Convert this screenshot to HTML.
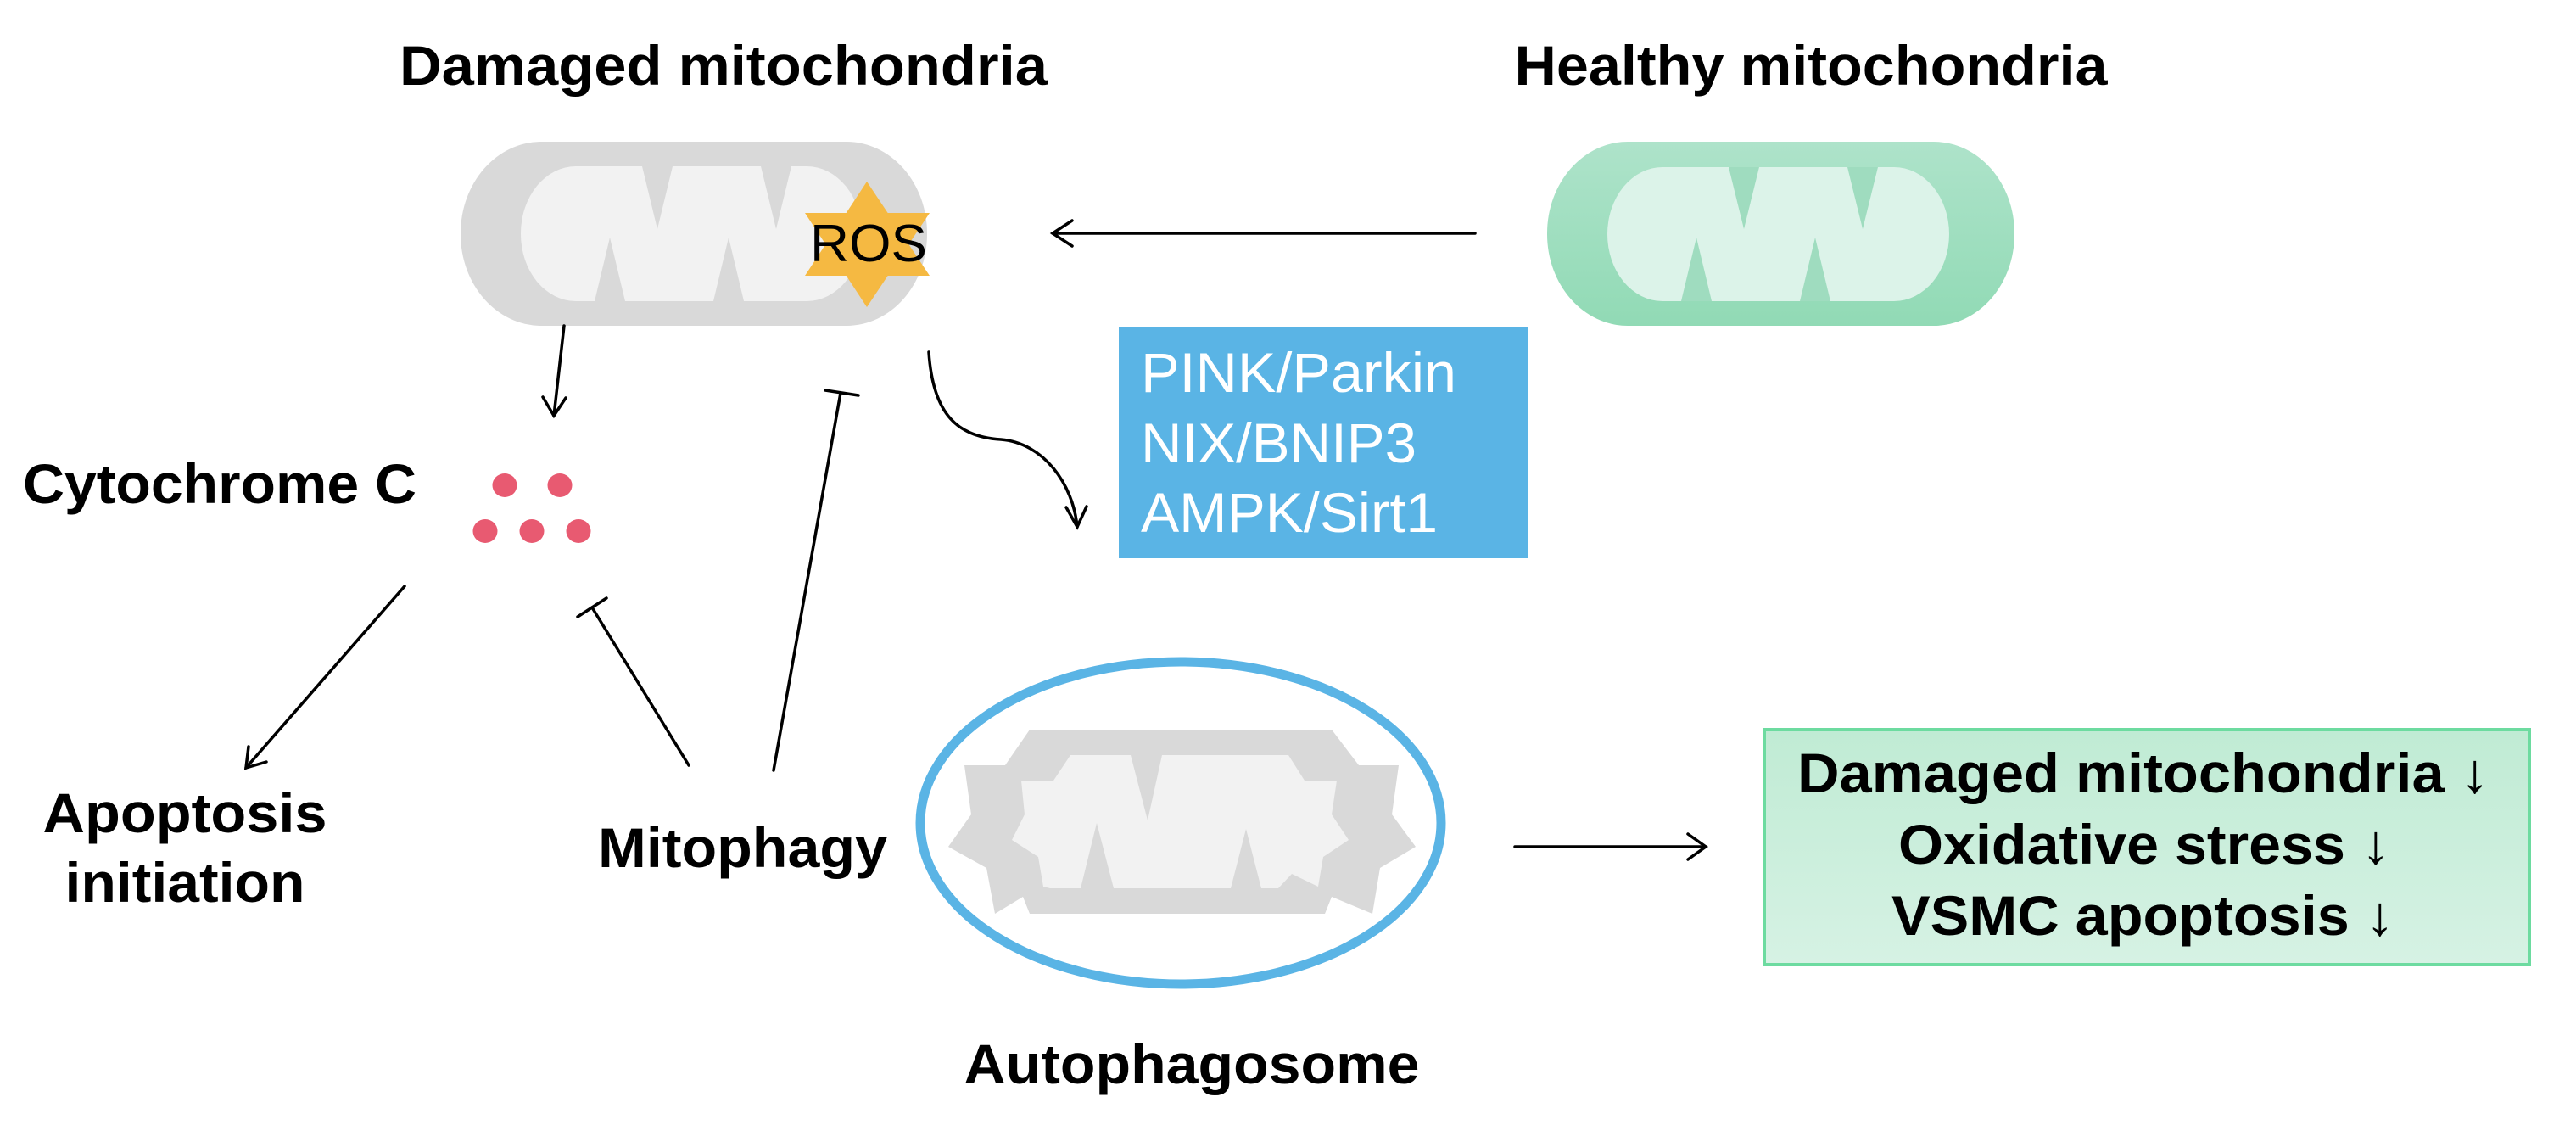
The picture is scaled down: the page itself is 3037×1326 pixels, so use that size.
<!DOCTYPE html>
<html><head><meta charset="utf-8"><style>
html,body{margin:0;padding:0;background:#fff;}
svg{display:block;}
text{font-family:"Liberation Sans",Arial,sans-serif;}
.b{font-weight:bold;font-size:66px;fill:#000;}
</style></head><body>
<svg width="3037" height="1326" viewBox="0 0 3037 1326" xmlns="http://www.w3.org/2000/svg">
<defs>
<linearGradient id="gh" x1="0" y1="0" x2="0" y2="1"><stop offset="0" stop-color="#aee3ca"/><stop offset="1" stop-color="#91dab5"/></linearGradient>
<linearGradient id="gb" x1="0" y1="0" x2="0" y2="1"><stop offset="0" stop-color="#c0ebd4"/><stop offset="1" stop-color="#d6f2e4"/></linearGradient>
</defs>

<!-- titles -->
<text class="b" x="853" y="100" text-anchor="middle" textLength="764" lengthAdjust="spacingAndGlyphs">Damaged mitochondria</text>
<text class="b" x="2135" y="100" text-anchor="middle" textLength="699" lengthAdjust="spacingAndGlyphs">Healthy mitochondria</text>

<!-- damaged mito -->
<g transform="translate(543,167)">
<rect x="0" y="0" width="550" height="217" rx="95" ry="108" fill="#d9d9d9"/>
<rect x="71" y="29" width="402" height="159" rx="65" ry="79" fill="#f2f2f2"/>
<polygon points="158,188 194,188 176,113" fill="#d9d9d9"/>
<polygon points="298,188 334,188 316,113" fill="#d9d9d9"/>
<polygon points="214,29 250,29 232,103" fill="#d9d9d9"/>
<polygon points="354,29 390,29 372,103" fill="#d9d9d9"/>
</g>
<!-- ROS star -->
<polygon points="1022,214 1096,325 949,325" fill="#f5b942"/>
<polygon points="949,251 1096,251 1022,362" fill="#f5b942"/>
<text x="1024" y="308" text-anchor="middle" font-size="62" textLength="138" lengthAdjust="spacingAndGlyphs">ROS</text>

<!-- healthy mito -->
<g transform="translate(1824,167)">
<rect x="0" y="0" width="551" height="217" rx="95" ry="108" fill="url(#gh)"/>
<rect x="71" y="30" width="403" height="158" rx="65" ry="79" fill="#dcf3e9"/>
<polygon points="158,188 194,188 176,113" fill="#9fdcbf"/>
<polygon points="298,188 334,188 316,113" fill="#9fdcbf"/>
<polygon points="214,30 250,30 232,103" fill="#9fdcbf"/>
<polygon points="354,30 390,30 372,103" fill="#9fdcbf"/>
</g>

<g stroke="#000" stroke-width="3.5" fill="none" stroke-linecap="round">
<!-- healthy -> damaged -->
<line x1="1739" y1="275" x2="1241" y2="275"/>
<polyline points="1264,260 1241,275 1264,290"/>
<!-- damaged -> cyt c -->
<line x1="665" y1="384" x2="653" y2="490"/>
<polyline points="640,468 653,490 667,469"/>
<!-- curved -->
<path d="M1095 415 C1100 490 1130 515 1180 518 C1230 522 1265 570 1270 621"/>
<polyline points="1257,598 1270,621 1281,597"/>
<!-- cyt c -> apoptosis -->
<line x1="477" y1="691" x2="290" y2="905"/>
<polyline points="293,880 290,905 314,898"/>
<!-- mitophagy -| cyt c -->
<line x1="812" y1="902" x2="698" y2="716"/>
<line x1="681" y1="727" x2="715" y2="705"/>
<!-- mitophagy -| damaged -->
<line x1="912" y1="908" x2="991" y2="463"/>
<line x1="973" y1="460" x2="1012" y2="466"/>
<!-- autophagosome -> result -->
<line x1="1786" y1="998" x2="2011" y2="998"/>
<polyline points="1990,983 2011,998 1990,1013"/>
</g>

<!-- blue box -->
<rect x="1319" y="386" width="482" height="272" fill="#5ab4e5"/>
<g fill="#fff" font-size="66">
<text x="1345" y="462" textLength="372" lengthAdjust="spacingAndGlyphs">PINK/Parkin</text>
<text x="1345" y="545" textLength="325" lengthAdjust="spacingAndGlyphs">NIX/BNIP3</text>
<text x="1345" y="627" textLength="350" lengthAdjust="spacingAndGlyphs">AMPK/Sirt1</text>
</g>

<!-- cytochrome c -->
<text class="b" x="27" y="593" textLength="464" lengthAdjust="spacingAndGlyphs">Cytochrome C</text>
<g fill="#e85a71">
<ellipse cx="595" cy="572" rx="14.5" ry="14"/>
<ellipse cx="660" cy="572" rx="14.5" ry="14"/>
<ellipse cx="572" cy="626" rx="14.5" ry="14"/>
<ellipse cx="627" cy="626" rx="14.5" ry="14"/>
<ellipse cx="682" cy="626" rx="14.5" ry="14"/>
</g>

<text class="b" x="218" y="981" text-anchor="middle" textLength="335" lengthAdjust="spacingAndGlyphs">Apoptosis</text>
<text class="b" x="218" y="1063" text-anchor="middle" textLength="283" lengthAdjust="spacingAndGlyphs">initiation</text>
<text class="b" x="705" y="1022" textLength="341" lengthAdjust="spacingAndGlyphs">Mitophagy</text>

<!-- autophagosome -->
<ellipse cx="1392" cy="970" rx="307" ry="190" fill="none" stroke="#5ab4e5" stroke-width="11"/>
<polygon fill="#d9d9d9" points="1214,860 1570,860 1602,902 1649,902 1641,960 1669,998 1627,1023 1618,1077 1570,1057 1562,1077 1214,1077 1206,1057 1173,1077 1163,1023 1118,998 1145,960 1137,902 1185,902"/>
<polygon fill="#f2f2f2" points="1262,890 1519,890 1538,920 1576,920 1570,960 1590,990 1560,1010 1554,1045 1523,1030 1507,1047 1238,1047 1230,1045 1224,1010 1193,990 1208,960 1204,920 1242,920"/>
<g fill="#d9d9d9">
<polygon points="1333,890 1370,890 1353,967"/>
<polygon points="1274,1047 1313,1047 1293,970"/>
<polygon points="1451,1047 1487,1047 1469,977"/>
</g>
<text class="b" x="1405" y="1277" text-anchor="middle" textLength="537" lengthAdjust="spacingAndGlyphs">Autophagosome</text>

<!-- green box -->
<rect x="2080" y="860" width="902" height="277" fill="url(#gb)" stroke="#6ddba0" stroke-width="4"/>
<text class="b" x="2119" y="934" textLength="816" lengthAdjust="spacingAndGlyphs">Damaged mitochondria ↓</text>
<text class="b" x="2238" y="1018" textLength="580" lengthAdjust="spacingAndGlyphs">Oxidative stress ↓</text>
<text class="b" x="2230" y="1102" textLength="593" lengthAdjust="spacingAndGlyphs">VSMC apoptosis ↓</text>
</svg>
</body></html>
